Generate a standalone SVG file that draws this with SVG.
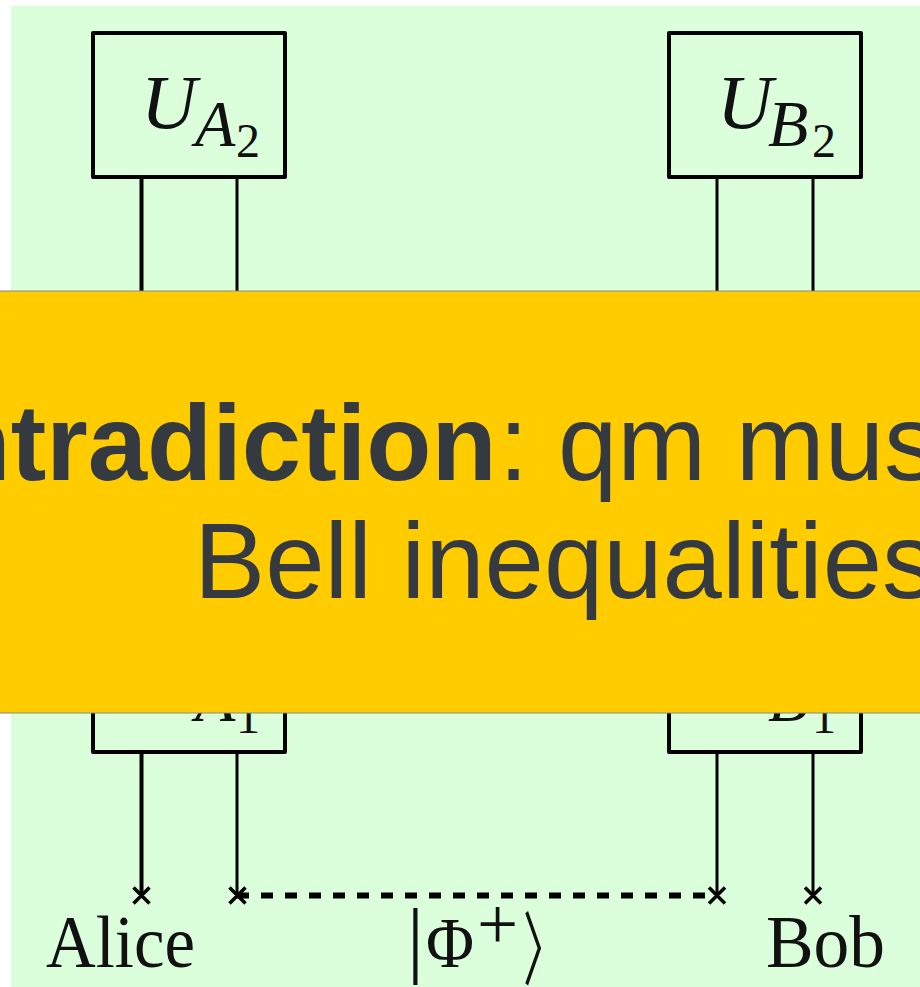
<svg xmlns="http://www.w3.org/2000/svg" width="920" height="987" viewBox="0 0 920 987">
<style>
.box{fill:none;stroke:#000;stroke-width:4;stroke-linejoin:round}
.w{fill:none;stroke:#000;stroke-width:3}
.m{font-family:"Liberation Serif",serif;fill:#111}
.i{font-style:italic}
.b{font-family:"Liberation Sans",Arial,sans-serif;font-size:106.700px;fill:#343a40}
</style>
<rect width="920" height="987" fill="#fff"/>
<rect x="11" y="6" width="909" height="981" fill="#dbffdb"/>
<g id="connectors">
<path class="w" d="M237 177V291M717 177V291M813 177V291M237 752V895M717 752V895M813 752V895"/>
<path class="w" style="stroke-width:4" d="M141.500 177V291M141.500 752V895"/>
<path d="M237 895.500H717" fill="none" stroke="#000" stroke-width="6" stroke-dasharray="12 12"/>
<path d="M133.500 887.500l16 16M149.500 887.500l-16 16M229.500 887.500l16 16M245.500 887.500l-16 16M709 887.500l16 16M725 887.500l-16 16M805 887.500l16 16M821 887.500l-16 16" fill="none" stroke="#000" stroke-width="3.500"/>
</g>
<g id="ua2">
<rect class="box" x="93" y="33" width="192" height="144"/>
<text class="m i" x="141" y="128" font-size="77">U</text>
<text class="m i" x="195" y="146" font-size="66">A</text>
<text class="m" x="236" y="157" font-size="48">2</text>
</g>
<g id="ub2">
<rect class="box" x="669" y="33" width="192" height="144"/>
<text class="m i" x="717" y="128" font-size="77">U</text>
<text class="m i" x="768" y="146" font-size="66">B</text>
<text class="m" x="812" y="157" font-size="48">2</text>
</g>
<g id="ua1">
<rect class="box" x="93" y="608" width="192" height="144"/>
<text class="m i" x="195" y="721" font-size="66">A</text>
<text class="m" x="236" y="733" font-size="48">1</text>
</g>
<g id="ub1">
<rect class="box" x="669" y="608" width="192" height="144"/>
<text class="m i" x="768" y="721" font-size="66">B</text>
<text class="m" x="812" y="733" font-size="48">1</text>
</g>
<g id="alice"><text class="m" x="46" y="967" font-size="75" textLength="149" lengthAdjust="spacingAndGlyphs">Alice</text></g>
<g id="bob"><text class="m" x="766" y="967" font-size="75" textLength="119" lengthAdjust="spacingAndGlyphs">Bob</text></g>
<g id="phi">
<text class="m" x="407" y="967" font-size="84">|</text>
<text class="m" x="426" y="967" font-size="72" textLength="48" lengthAdjust="spacingAndGlyphs">Φ</text>
<text class="m" x="477" y="949" font-size="73">+</text>
<text font-family="Noto Sans CJK SC,sans-serif" transform="translate(523 978) scale(.55 1)" font-size="80" fill="#111">〉</text>
</g>
<g id="banner">
<rect x="-2" y="291" width="924" height="422" fill="#fc0" stroke="#888" stroke-width="1"/>
<text class="b" x="-54.500" y="480"><tspan font-weight="700">ntradiction</tspan><tspan dx="2">: qm mus</tspan></text>
<text class="b" x="194" y="598">Bell inequalities</text>
</g>
</svg>
